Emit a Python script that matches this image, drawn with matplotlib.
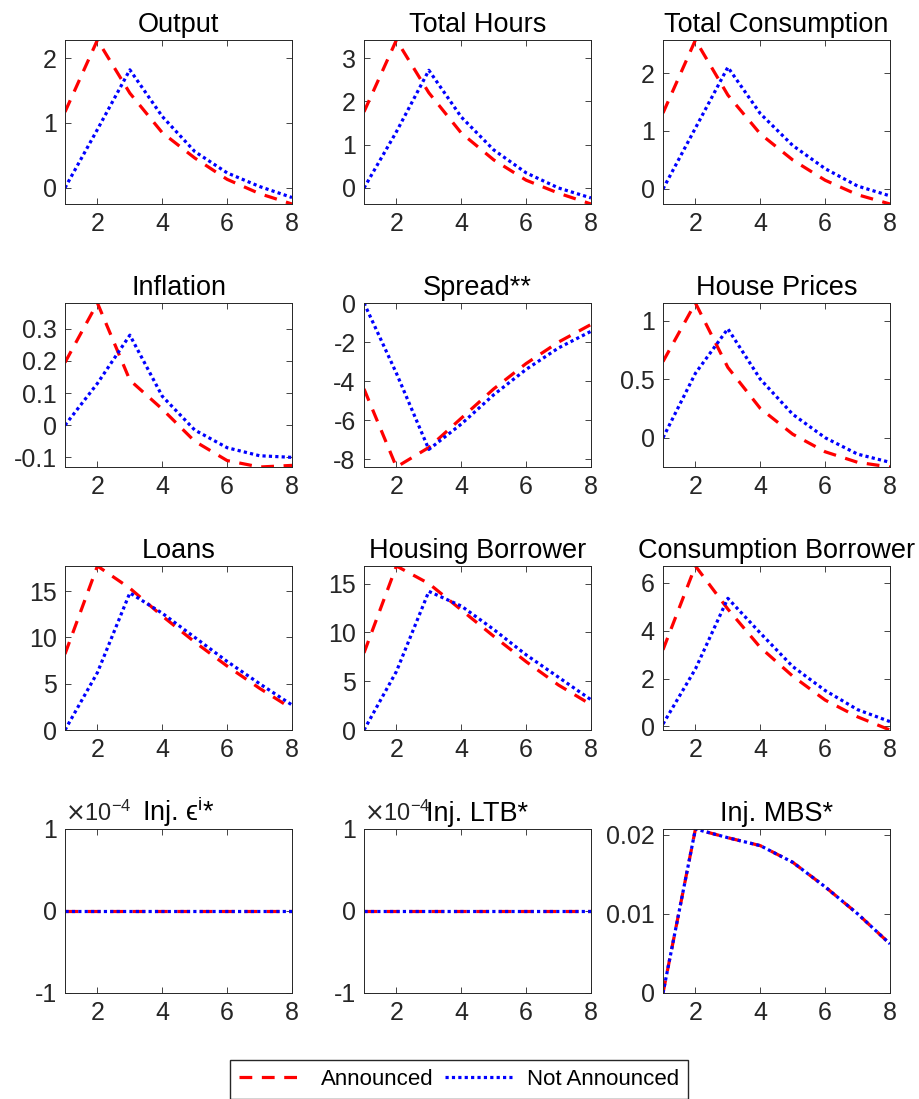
import numpy as np
import matplotlib
matplotlib.use('Agg')
from matplotlib import pyplot as plt
from matplotlib.ticker import FuncFormatter

plt.rcParams['font.family'] = ['Liberation Sans', 'DejaVu Sans']
plt.rcParams['mathtext.fontset'] = 'dejavusans'
plt.rcParams['axes.unicode_minus'] = False

horizon = [1, 2, 3, 4, 5, 6, 7, 8]

titles = ['Output', 'Total Hours', 'Total Consumption',
          'Inflation', 'Spread**', 'House Prices',
          'Loans', 'Housing Borrower', 'Consumption Borrower',
          'Inj. \u03f5$^{\\mathregular{i}}$*', 'Inj. LTB*', 'Inj. MBS*']

announced = [
    [1.17, 2.28, 1.46, 0.85, 0.46, 0.13, -0.09, -0.25],
    [1.76, 3.42, 2.20, 1.27, 0.65, 0.18, -0.12, -0.37],
    [1.31, 2.57, 1.62, 0.95, 0.50, 0.15, -0.10, -0.26],
    [0.195, 0.38, 0.14, 0.05, -0.05, -0.11, -0.13, -0.125],
    [-4.4, -8.4, -7.4, -5.9, -4.4, -3.1, -2.0, -1.1],
    [0.65, 1.15, 0.60, 0.25, 0.03, -0.12, -0.21, -0.25],
    [8.2, 17.7, 15.3, 12.3, 9.5, 6.9, 4.5, 2.3],
    [7.9, 16.8, 15.0, 12.3, 9.6, 7.0, 4.6, 2.6],
    [3.2, 6.7, 4.9, 3.3, 2.1, 1.1, 0.4, -0.15],
    [0, 0, 0, 0, 0, 0, 0, 0],
    [0, 0, 0, 0, 0, 0, 0, 0],
    [0, 0.0207, 0.0196, 0.0186, 0.0165, 0.0134, 0.0100, 0.0062],
]

not_announced = [
    [0.0, 0.90, 1.82, 1.10, 0.56, 0.23, 0.02, -0.15],
    [0.0, 1.30, 2.72, 1.64, 0.88, 0.35, 0.0, -0.23],
    [0.0, 1.05, 2.10, 1.30, 0.75, 0.35, 0.05, -0.12],
    [0.0, 0.13, 0.28, 0.09, -0.015, -0.07, -0.095, -0.10],
    [0.0, -3.6, -7.5, -6.2, -4.7, -3.4, -2.3, -1.45],
    [0.0, 0.55, 0.93, 0.50, 0.20, 0.0, -0.14, -0.21],
    [0.0, 6.2, 14.8, 12.6, 10.0, 7.4, 5.0, 2.7],
    [0.0, 6.0, 14.2, 12.7, 10.3, 7.7, 5.4, 3.1],
    [0.1, 2.4, 5.35, 3.9, 2.5, 1.5, 0.7, 0.2],
    [0, 0, 0, 0, 0, 0, 0, 0],
    [0, 0, 0, 0, 0, 0, 0, 0],
    [0, 0.0207, 0.0196, 0.0186, 0.0165, 0.0134, 0.0100, 0.0062],
]

yticks = [
    [0, 1, 2], [0, 1, 2, 3], [0, 1, 2],
    [-0.1, 0, 0.1, 0.2, 0.3], [-8, -6, -4, -2, 0], [0, 0.5, 1],
    [0, 5, 10, 15], [0, 5, 10, 15], [0, 2, 4, 6],
    [-1e-4, 0, 1e-4], [-1e-4, 0, 1e-4], [0, 0.01, 0.02],
]

gray = (0.15, 0.15, 0.15)
fig = plt.figure(figsize=(9.19, 10.99), dpi=100)

col_left = [65, 364, 663]
row_bottom = [204, 467, 730, 993]
W, H = 227, 164

for i in range(12):
    r, c = divmod(i, 3)
    ax = fig.add_axes([col_left[c] / 919, (1099 - row_bottom[r]) / 1099, W / 919, H / 1099])
    l1, = ax.plot(horizon, announced[i], color='red', lw=2.3, linestyle=(0, (4, 3)),
                  label='Announced')
    l2, = ax.plot(horizon, not_announced[i], color='blue', lw=2.3, linestyle=(0, (1, 1)),
                  label='Not Announced')
    ax.set_xlim(1, 8)
    ax.set_xticks([2, 4, 6, 8])
    lo = min(min(announced[i]), min(not_announced[i]))
    hi = max(max(announced[i]), max(not_announced[i]))
    if hi == lo:
        lo, hi = -1e-4, 1e-4
    ax.set_ylim(lo, hi)
    ax.set_yticks(yticks[i])
    if i in (9, 10):
        ax.yaxis.set_major_formatter(FuncFormatter(lambda v, p: '%g' % round(v * 1e4, 6)))
        ax.text(0.0, 1.02, '$\\times\\mathregular{10^{-4}}$', transform=ax.transAxes,
                fontsize=17, color=gray, ha='left', va='bottom')
    else:
        ax.yaxis.set_major_formatter(FuncFormatter(lambda v, p: '%g' % round(v, 6)))
    ax.set_title(titles[i], fontsize=19.5, pad=6)
    ax.tick_params(direction='in', top=True, right=True, length=4, width=0.6,
                   labelsize=18, colors=gray, pad=6)
    for s in ax.spines.values():
        s.set_color(gray)
        s.set_linewidth(0.7)

fig.legend([l1, l2], ['Announced', 'Not Announced'], loc='upper center',
           bbox_to_anchor=(0.4995, (1099 - 1060) / 1099), ncol=2, fontsize=16,
           frameon=True, fancybox=False, edgecolor=gray, framealpha=1,
           handlelength=3.0, handletextpad=0.7, columnspacing=0.5,
           borderpad=0.4, borderaxespad=0)

fig.savefig('out.png', dpi=100)
